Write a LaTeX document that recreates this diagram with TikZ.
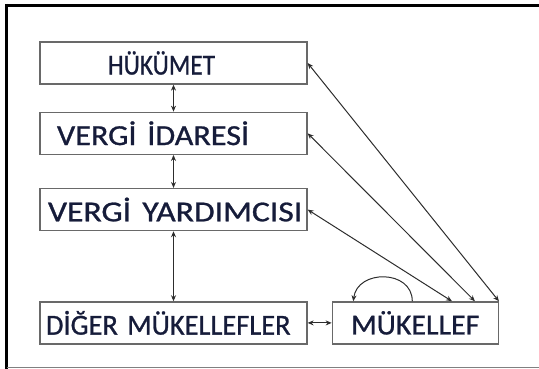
\documentclass[tikz,border=0pt]{standalone}
\usepackage{fontspec}
\setmainfont{Carlito}[UprightFeatures={FakeBold=0.9}]
\usepackage{graphicx}
\usepackage{xcolor}
\definecolor{TextColor}{RGB}{22,28,58}
\definecolor{BoxColor}{RGB}{105,105,105}
\definecolor{LineColor}{RGB}{45,45,45}
\usetikzlibrary{positioning, arrows.meta}

\newcommand{\wtext}[2]{\scalebox{#1}[1]{#2}}

\begin{document}
\begin{tikzpicture}[
    x=1pt, y=-1pt,
    node distance=27pt and 24pt,
    every node/.style={font=\fontsize{29}{32}\selectfont, text=TextColor},
    box/.style={rectangle, draw=BoxColor, line width=1.3pt, minimum height=42pt, inner sep=0pt},
    wide/.style={box, minimum width=267pt, text width=267pt},
    arrow/.style={{Stealth[length=6pt,width=5pt]}-{Stealth[length=6pt,width=5pt]}, line width=1pt, LineColor},
]

% Frame
\useasboundingbox (0,0) rectangle (539,369);
\draw[line width=3.5pt] (6.5,5.5) -- (539,5.5);
\draw[line width=3.5pt] (6.5,4) -- (6.5,369);
\draw[line width=1.2pt, gray] (6.5,367.5) -- (539,367.5);

% Boxes
\node[wide, align=center] (hukumet) at (173.5,63) {\hspace*{-24pt}\wtext{0.87}{HÜKÜMET}};
\node[wide, align=left, below=27pt of hukumet] (idare) {\hspace*{17pt}\wtext{1.11}{VERGİ İDARESİ}};
\node[wide, align=left, below=33pt of idare] (yardimci) {\hspace*{8pt}\wtext{1.16}{VERGİ YARDIMCISI}};
\node[wide, align=left, below=70pt of yardimci] (diger) {\hspace*{6pt}\wtext{0.98}{DİĞER MÜKELLEFLER}};
\node[box, minimum width=166pt, right=24pt of diger] (mukellef) {\wtext{1.03}{MÜKELLEF}};

% Vertical links
\draw[arrow] (hukumet.south) -- (idare.north);
\draw[arrow] (idare.south) -- (yardimci.north);
\draw[arrow] (yardimci.south) -- (diger.north);
\draw[arrow] (diger.east) -- (mukellef.west);

% Links to the taxpayer
\draw[arrow] (hukumet.east) -- (mukellef.north east);
\draw[arrow] (idare.east) -- ([xshift=-24pt]mukellef.north east);
\draw[arrow] (yardimci.east) -- ([xshift=-47pt]mukellef.north east);

% Self loop
\draw[-{Stealth[length=6pt,width=5pt]}, line width=1pt, LineColor]
    ([xshift=-3pt]mukellef.north) .. controls +(0,-32) and +(4,-32) .. ([xshift=-62pt]mukellef.north);

\end{tikzpicture}
\end{document}
